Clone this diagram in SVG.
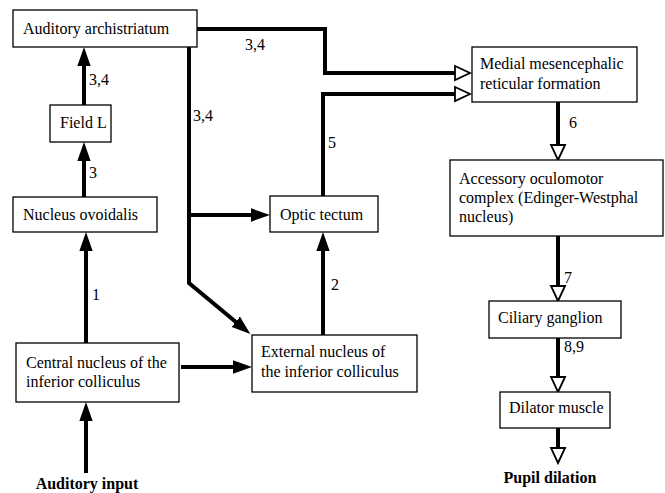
<svg xmlns="http://www.w3.org/2000/svg" width="665" height="493" viewBox="0 0 665 493">
<style>
.box{fill:#fff;stroke:#000;stroke-width:1.3}
text{font-family:'Liberation Serif','Times New Roman','DejaVu Serif',Times,serif;font-size:16px;fill:#000}
.b{font-weight:bold;text-anchor:middle}
.c{fill:none;stroke:#000;stroke-width:4;stroke-linejoin:miter}
.f{marker-end:url(#fa)}
.o{marker-end:url(#oa)}
</style>
<defs>
<marker id="fa" markerUnits="userSpaceOnUse" markerWidth="22" markerHeight="18" viewBox="-1 -9 22 18" refX="0" refY="0" orient="auto">
<path d="M-1,0 L-2,-7 L18,0 L-2,7 Z" fill="#000"/>
</marker>
<marker id="oa" markerUnits="userSpaceOnUse" markerWidth="20" markerHeight="20" viewBox="-2 -10 20 20" refX="0" refY="0" orient="auto">
<path d="M0,-7 L15,0 L0,7 Z" fill="#fff" stroke="#000" stroke-width="1.8"/>
</marker>
</defs>
<g id="connectors">
<path class="c o" d="M197,29 H325 V73 H455"/>
<path class="c o" d="M323,196 V94 H455"/>
<path class="c f" d="M84,105 V65"/>
<path class="c f" d="M84,197 V160"/>
<path class="c f" d="M86,343 V250"/>
<path class="c f" d="M86,473 V420"/>
<path class="c f" d="M181,367 H234"/>
<path class="c f" d="M323,335 V250"/>
<path class="c f" d="M189,47 V283 L236.5,322.5"/>
<path class="c f" d="M189,215 H252"/>
<path class="c o" d="M558,102 V145"/>
<path class="c o" d="M558,236 V286"/>
<path class="c o" d="M558,338 V377"/>
<path class="c o" d="M558,428 V448"/>
<text x="89" y="85">3,4</text>
<text x="89" y="178">3</text>
<text x="92" y="300">1</text>
<text x="193" y="121">3,4</text>
<text x="245" y="50">3,4</text>
<text x="328" y="148">5</text>
<text x="331" y="290">2</text>
<text x="569" y="128">6</text>
<text x="564" y="283">7</text>
<text x="564" y="352">8,9</text>
</g>
<g id="archistriatum">
<rect class="box" x="13" y="10" width="184" height="37"/>
<text x="23" y="34">Auditory archistriatum</text>
</g>
<g id="fieldL">
<rect class="box" x="50" y="105" width="61" height="37"/>
<text x="60" y="128">Field L</text>
</g>
<g id="ovoidalis">
<rect class="box" x="13" y="197" width="144" height="35"/>
<text x="23" y="220">Nucleus ovoidalis</text>
</g>
<g id="tectum">
<rect class="box" x="270" y="196" width="108" height="36"/>
<text x="280" y="220">Optic tectum</text>
</g>
<g id="central">
<rect class="box" x="16" y="343" width="163" height="59"/>
<text x="26" y="368">Central nucleus of the</text>
<text x="26" y="387">inferior colliculus</text>
</g>
<g id="external">
<rect class="box" x="252" y="335" width="165" height="57"/>
<text x="261" y="357">External nucleus of</text>
<text x="261" y="377">the inferior colliculus</text>
</g>
<g id="medial">
<rect class="box" x="472" y="47" width="165" height="55"/>
<text x="480" y="69">Medial mesencephalic</text>
<text x="480" y="89">reticular formation</text>
</g>
<g id="accessory">
<rect class="box" x="450" y="160" width="213" height="76"/>
<text x="459" y="184">Accessory oculomotor</text>
<text x="459" y="203">complex (Edinger-Westphal</text>
<text x="459" y="222">nucleus)</text>
</g>
<g id="ciliary">
<rect class="box" x="489" y="301" width="132" height="37"/>
<text x="498" y="323">Ciliary ganglion</text>
</g>
<g id="dilator">
<rect class="box" x="500" y="392" width="110" height="36"/>
<text x="509" y="413">Dilator muscle</text>
</g>
<g id="auditoryInput">
<text class="b" x="87" y="489">Auditory input</text>
</g>
<g id="pupilDilation">
<text class="b" x="550" y="483">Pupil dilation</text>
</g>
</svg>
